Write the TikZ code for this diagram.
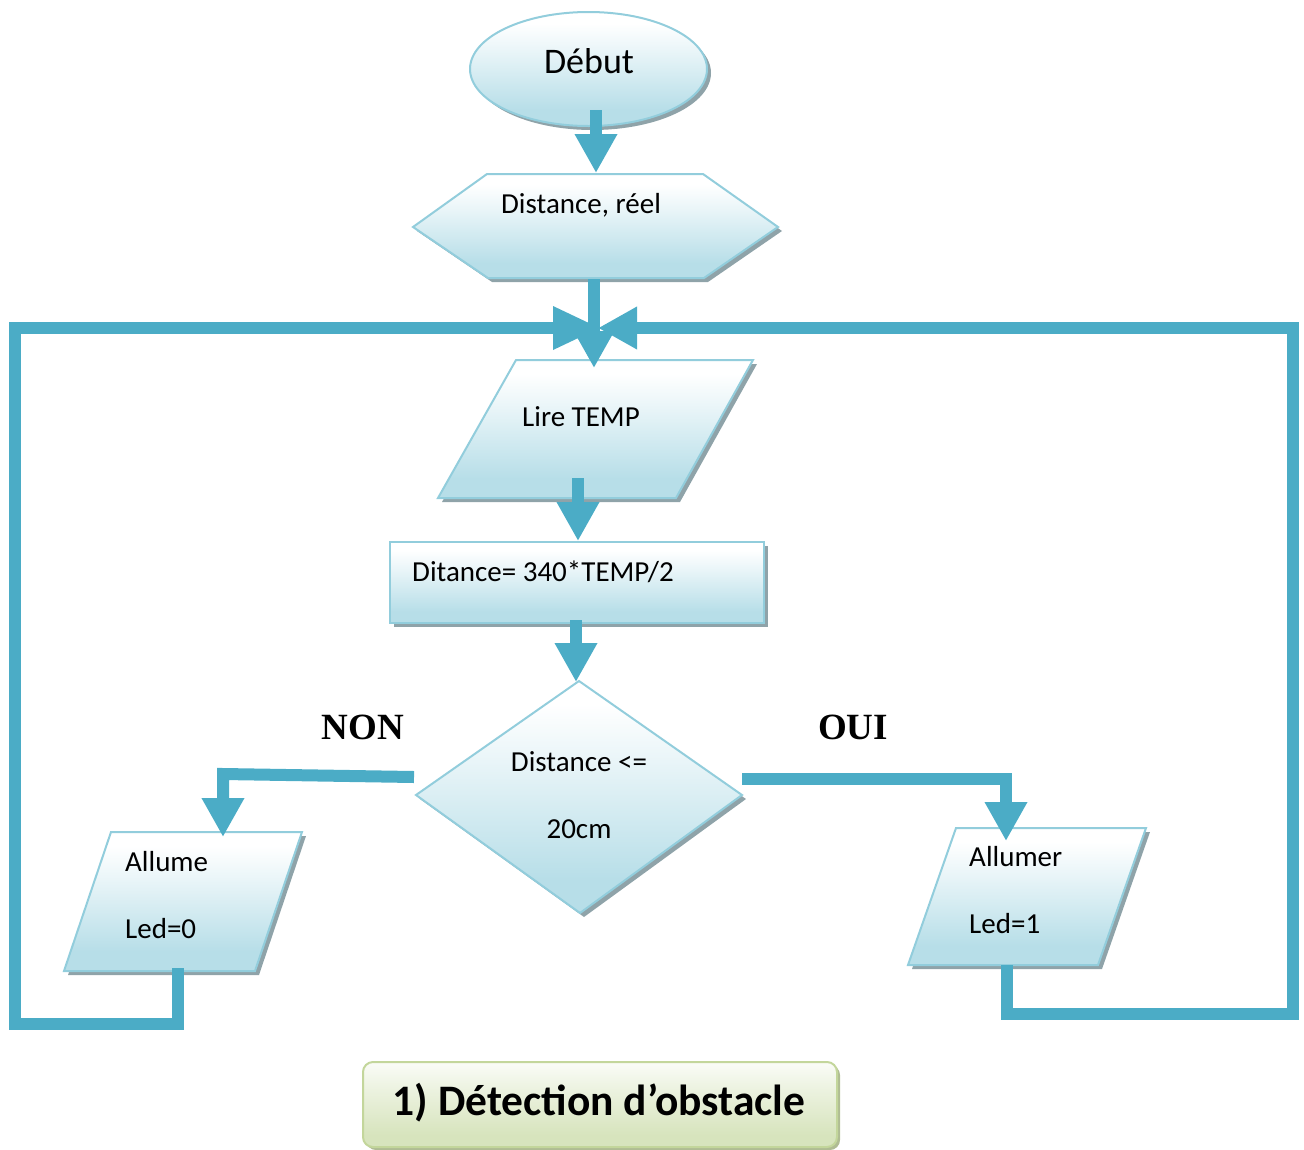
\documentclass[tikz,border=0pt]{standalone}
\usepackage{fontspec}
\setmainfont{Carlito}
\newfontfamily\branchfont{Liberation Serif}
\usetikzlibrary{arrows.meta,shadows}

\definecolor{flowblue}{HTML}{4BACC6}
\definecolor{edgeblue}{HTML}{92CDDC}
\definecolor{fillblue}{HTML}{B7DEE8}
\definecolor{shadowgray}{HTML}{8FA3A9}
\definecolor{capedge}{HTML}{C3D69B}
\definecolor{capfill}{HTML}{D7E4BD}

% vertical fades: light at the top, tinted at the bottom
\pgfdeclareverticalshading{paleblue}{100bp}{color(0bp)=(fillblue); color(32bp)=(fillblue); color(58bp)=(fillblue!30!white); color(70bp)=(white); color(100bp)=(white)}
\pgfdeclareverticalshading{palegreen}{100bp}{color(0bp)=(capfill); color(32bp)=(capfill); color(60bp)=(capfill!45!white); color(75bp)=(capfill!12!white); color(100bp)=(capfill!12!white)}

\tikzset{
  boxshape/.style={draw=edgeblue, line width=2pt, shading=paleblue,
    drop shadow={shadow xshift=4pt, shadow yshift=-4pt, fill=shadowgray, opacity=1}},
  capshape/.style={draw=capedge, line width=2pt, shading=palegreen, rounded corners=10pt,
    drop shadow={shadow xshift=3pt, shadow yshift=-3pt, fill=capedge!70!gray, opacity=1}},
  txt/.style={inner sep=0pt, font=\fontsize{29}{34}\selectfont},
  flow/.style={draw=flowblue, line width=12pt, line join=miter,
    -{Triangle[width=40pt,length=39pt]}},
  longtip/.style={-{Triangle[width=40pt,length=48pt]}},
  branch/.style={inner sep=0pt, font=\branchfont\bfseries\fontsize{37}{40}\selectfont},
}

\begin{document}
\begin{tikzpicture}[x=1pt,y=-1pt]
\useasboundingbox (0,0) rectangle (1304,1149);

% --- shapes ---
\path[boxshape] (588.5,69) ellipse [x radius=118.5, y radius=57];
\path[boxshape] (487,174) -- (703,174) -- (778,227) -- (704,278) -- (488,278) -- (413,227) -- cycle;
\path[boxshape] (516,360) -- (753,360) -- (676,498) -- (438,498) -- cycle;
\path[boxshape] (390,542) rectangle (764,623);
\path[boxshape] (579,681) -- (742,795) -- (580,913) -- (416,795) -- cycle;
\path[boxshape] (111,832) -- (302,832) -- (255,971) -- (64,971) -- cycle;
\path[boxshape] (956,828) -- (1146,828) -- (1098,965) -- (908,965) -- cycle;
\path[capshape] (363,1062) rectangle (837,1147);

% --- texts ---
\node[txt, anchor=base, font=\fontsize{36}{40}\selectfont] (debut) at (589,73) {Début};
\node[txt, anchor=base] (decl) at (581,213) {Distance, réel};
\node[txt, anchor=base] (lire) at (581,426) {Lire TEMP};
\node[txt, anchor=base west] (calc) at (412,581) {Ditance= 340*TEMP/2};
\node[txt, anchor=base] (test) at (579,771) {Distance <=};
\node[txt, anchor=base] (test2) at (579,838) {20cm};
\node[txt, anchor=base west] (off) at (125,871) {Allume};
\node[txt, anchor=base west] (off2) at (125,938) {Led=0};
\node[txt, anchor=base west] (on) at (969,866) {Allumer};
\node[txt, anchor=base west] (on2) at (969,933) {Led=1};
\node[branch, anchor=base] (non) at (363,739) {NON};
\node[branch, anchor=base] (oui) at (853,739) {OUI};
\node[txt, anchor=base, font=\bfseries\fontsize{43.5}{48}\selectfont] (caption) at (599,1115) {1) Détection d’obstacle};

% --- connector ends ---
\coordinate (debut-s) at (596,110);
\coordinate (decl-n) at (596,173);
\coordinate (decl-s) at (594,279);
\coordinate (lire-n) at (594,368);
\coordinate (lire-s) at (578,478);
\coordinate (calc-n) at (578,541);
\coordinate (calc-s) at (576,620);
\coordinate (test-n) at (576,682);
\coordinate (test-w) at (414,777);
\coordinate (test-e) at (742,779);
\coordinate (off-n) at (223,837);
\coordinate (on-n) at (1006,841);
\coordinate (off-s) at (178,968);
\coordinate (on-s) at (1007,965);
\coordinate (mergeL) at (601,328);
\coordinate (mergeR) at (598,328);

% --- connectors ---
\draw[flow, longtip] (off-s) -- (178,1024) -- (15,1024) -- (15,328) -- (mergeL);
\draw[flow] (on-s) -- (1007,1014) -- (1293,1014) -- (1293,328) -- (mergeR);
\draw[flow] (debut-s) -- (decl-n);
\draw[flow, -{Triangle[width=38pt,length=37pt]}] (decl-s) -- (lire-n);
\draw[flow] (lire-s) -- (calc-n);
\draw[flow] (calc-s) -- (test-n);
\draw[flow] (test-w) -- (223,774) -- (off-n);
\draw[flow] (test-e) -- (1006,779) -- (on-n);
\end{tikzpicture}
\end{document}
